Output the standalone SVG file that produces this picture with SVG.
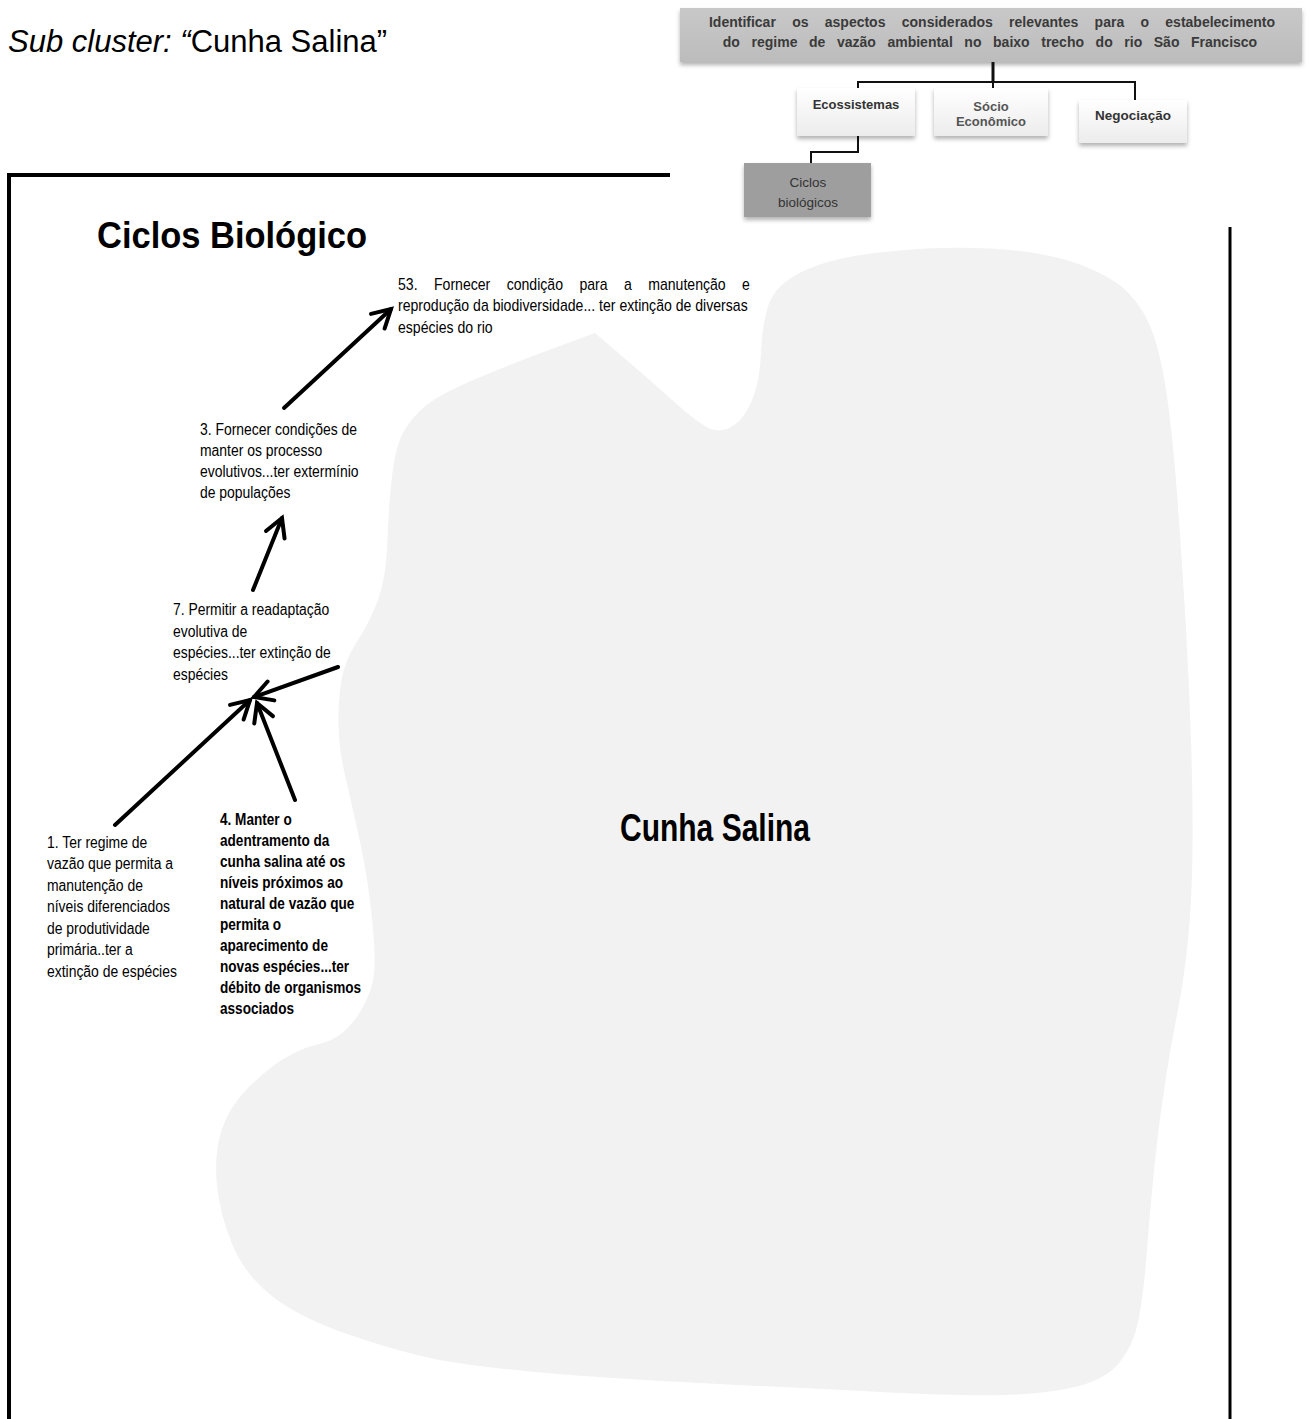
<svg xmlns="http://www.w3.org/2000/svg" width="1311" height="1419" viewBox="0 0 1311 1419">
<style>
.sans{font-family:"Liberation Sans",Arial,sans-serif}
.lbl{font-family:"Liberation Sans",Arial,sans-serif;font-size:16px;fill:#000}
.lblb{font-family:"Liberation Sans",Arial,sans-serif;font-size:16px;font-weight:bold;fill:#000}
.hb{font-family:"Liberation Sans",Arial,sans-serif;font-weight:bold}
.frame{stroke:#000;fill:none}
.arrow{stroke:#000;stroke-width:4;fill:none;stroke-linecap:round;marker-end:url(#ah)}
.hcon{stroke:#111;fill:none}
</style>
<defs>
<marker id="ah" markerUnits="userSpaceOnUse" viewBox="-22 -12 26 24" refX="0" refY="0" markerWidth="26" markerHeight="24" orient="auto" overflow="visible">
<path d="M-18,-10 L0,0 L-18,10" fill="none" stroke="#000" stroke-width="4" stroke-linecap="round"/>
</marker>
<filter id="sh" x="-10%" y="-20%" width="120%" height="160%">
<feDropShadow dx="0" dy="3" stdDeviation="2" flood-color="#000" flood-opacity="0.3"/>
</filter>
<linearGradient id="wg" x1="0" y1="0" x2="0" y2="1">
<stop offset="0" stop-color="#ffffff"/><stop offset="1" stop-color="#ececec"/>
</linearGradient>
<linearGradient id="gg" x1="0" y1="0" x2="0" y2="1">
<stop offset="0" stop-color="#c8c8c8"/><stop offset="1" stop-color="#bcbcbc"/>
</linearGradient>
</defs>
<rect width="1311" height="1419" fill="#fff"/>

<g id="heading">
<text class="sans" x="8" y="52" font-size="31"><tspan font-style="italic">Sub cluster: “</tspan>Cunha Salina”</text>
</g>

<g id="frame">
<line class="frame" x1="9" y1="175" x2="670" y2="175" stroke-width="4"/>
<line class="frame" x1="9" y1="173" x2="9" y2="1419" stroke-width="4"/>
<line class="frame" x1="1230" y1="227" x2="1230" y2="1419" stroke-width="3"/>
</g>

<g id="node-cunha-salina">
<path fill="#f2f2f2" d="M595,333 L622.5,356.5 Q650,380 675,402.5 Q700,425 711,429 Q722,433 733.5,425.5 Q745,418 752.5,399 Q760,380 761,352.5 Q762,325 768.5,305 Q775,285 802.5,271.5 Q830,258 883.5,252 Q937,246 989.5,248.5 Q1042,251 1077,263.5 Q1112,276 1128.5,293 Q1145,310 1153.5,335 Q1162,360 1167.5,400 Q1173,440 1177.5,500 Q1182,560 1185.5,620 Q1189,680 1191,740 Q1193,800 1192.5,850 Q1192,900 1188,940 Q1184,980 1177,1015 Q1170,1050 1164,1090 Q1158,1130 1154,1170 Q1150,1210 1147,1250 Q1144,1290 1139,1317.5 Q1134,1345 1119.5,1362.5 Q1105,1380 1075,1387 Q1045,1394 1002.5,1395 Q960,1396 880,1392 Q800,1388 700,1383 Q600,1378 535,1372 Q470,1366 435,1359 Q400,1352 350,1335 Q300,1318 272.5,1296.5 Q245,1275 232.5,1245 Q220,1215 217,1185.5 Q214,1156 221,1132 Q228,1108 248,1088 Q268,1068 285,1058 Q302,1048 317.5,1044.5 Q333,1041 344,1031.5 Q355,1022 363.5,1006 Q372,990 374,974 Q376,958 372,918.5 Q368,879 360,842 Q352,805 345.5,777.5 Q339,750 338.5,725 Q338,700 341.5,680 Q345,660 356.5,642.5 Q368,625 377,602.5 Q386,580 387.5,540 Q389,500 392.5,472.5 Q396,445 404,431 Q412,417 426,405.5 Q440,394 478,378 Q516,362 555.5,347.5 L595,333 Z"/>
<text class="sans" x="715" y="841" font-size="38" font-weight="bold" text-anchor="middle" textLength="190" lengthAdjust="spacingAndGlyphs">Cunha Salina</text>
</g>

<g id="title">
<text class="sans" x="97" y="248" font-size="37" font-weight="bold" textLength="270" lengthAdjust="spacingAndGlyphs">Ciclos Biológico</text>
</g>

<g id="node-top">
<rect x="680" y="8" width="622" height="54" fill="url(#gg)" filter="url(#sh)"/>
<text class="hb" x="992" y="27" style="font-size:14px;fill:#3a3a3a" text-anchor="middle" word-spacing="12.4">Identificar os aspectos considerados relevantes para o estabelecimento</text>
<text class="hb" x="990" y="47" style="font-size:14px;fill:#3a3a3a" text-anchor="middle" word-spacing="7.7">do regime de vazão ambiental no baixo trecho do rio São Francisco</text>
</g>

<g id="connectors-hierarchy">
<line class="hcon" x1="993" y1="62" x2="993" y2="83" stroke-width="3"/>
<polyline class="hcon" points="858,90 858,82 1135,82 1135,100" stroke-width="2"/>
<line class="hcon" x1="993" y1="82" x2="993" y2="90" stroke-width="2"/>
<polyline class="hcon" points="858,136 858,152 811,152 811,163" stroke-width="2"/>
</g>

<g id="node-ecossistemas">
<rect x="797" y="88" width="118" height="48" fill="url(#wg)" filter="url(#sh)"/>
<text class="hb" x="856" y="109" style="font-size:13px;fill:#333" text-anchor="middle">Ecossistemas</text>
</g>
<g id="node-socio">
<rect x="934" y="88" width="114" height="48" fill="url(#wg)" filter="url(#sh)"/>
<text class="hb" x="991" y="111" style="font-size:13px;fill:#555" text-anchor="middle">Sócio</text>
<text class="hb" x="991" y="126" style="font-size:13px;fill:#555" text-anchor="middle">Econômico</text>
</g>
<g id="node-negociacao">
<rect x="1079" y="100" width="108" height="43" fill="url(#wg)" filter="url(#sh)"/>
<text class="hb" x="1133" y="120" style="font-size:13.5px;fill:#333" text-anchor="middle">Negociação</text>
</g>
<g id="node-ciclos">
<rect x="744" y="163" width="127" height="54" fill="#9e9e9e" filter="url(#sh)"/>
<text class="sans" x="808" y="187" font-size="13.5" fill="#333" text-anchor="middle">Ciclos</text>
<text class="sans" x="808" y="207" font-size="13.5" fill="#333" text-anchor="middle">biológicos</text>
</g>

<g id="connectors">
<line class="arrow" x1="284" y1="408" x2="391" y2="309"/>
<line class="arrow" x1="253" y1="590" x2="282" y2="518"/>
<line class="arrow" x1="338" y1="667" x2="254" y2="697"/>
<line class="arrow" x1="115" y1="825" x2="250" y2="700"/>
<line class="arrow" x1="295" y1="800" x2="257" y2="703"/>
</g>

<g id="node-53" transform="translate(398 0) scale(0.88 1)">
<text class="lbl" x="0" y="290" word-spacing="14.2">53. Fornecer condição para a manutenção e</text>
<text class="lbl" x="0" y="311.5">reprodução da biodiversidade... ter extinção de diversas</text>
<text class="lbl" x="0" y="333">espécies do rio</text>
</g>

<g id="node-3" transform="translate(200 0) scale(0.87 1)">
<text class="lbl" x="0" y="435">3. Fornecer condições de</text>
<text class="lbl" x="0" y="456">manter os processo</text>
<text class="lbl" x="0" y="477">evolutivos...ter extermínio</text>
<text class="lbl" x="0" y="498">de populações</text>
</g>

<g id="node-7" transform="translate(173 0) scale(0.87 1)">
<text class="lbl" x="0" y="615">7. Permitir a readaptação</text>
<text class="lbl" x="0" y="637">evolutiva de</text>
<text class="lbl" x="0" y="658">espécies...ter extinção de</text>
<text class="lbl" x="0" y="680">espécies</text>
</g>

<g id="node-1" transform="translate(47 0) scale(0.87 1)">
<text class="lbl" x="0" y="848">1. Ter regime de</text>
<text class="lbl" x="0" y="869.5">vazão que permita a</text>
<text class="lbl" x="0" y="891">manutenção de</text>
<text class="lbl" x="0" y="912.5">níveis diferenciados</text>
<text class="lbl" x="0" y="934">de produtividade</text>
<text class="lbl" x="0" y="955.5">primária..ter a</text>
<text class="lbl" x="0" y="977">extinção de espécies</text>
</g>

<g id="node-4" transform="translate(220 0) scale(0.85 1)">
<text class="lblb" x="0" y="825">4. Manter o</text>
<text class="lblb" x="0" y="846">adentramento da</text>
<text class="lblb" x="0" y="867">cunha salina até os</text>
<text class="lblb" x="0" y="888">níveis próximos ao</text>
<text class="lblb" x="0" y="909">natural de vazão que</text>
<text class="lblb" x="0" y="930">permita o</text>
<text class="lblb" x="0" y="951">aparecimento de</text>
<text class="lblb" x="0" y="972">novas espécies...ter</text>
<text class="lblb" x="0" y="993">débito de organismos</text>
<text class="lblb" x="0" y="1014">associados</text>
</g>
</svg>
